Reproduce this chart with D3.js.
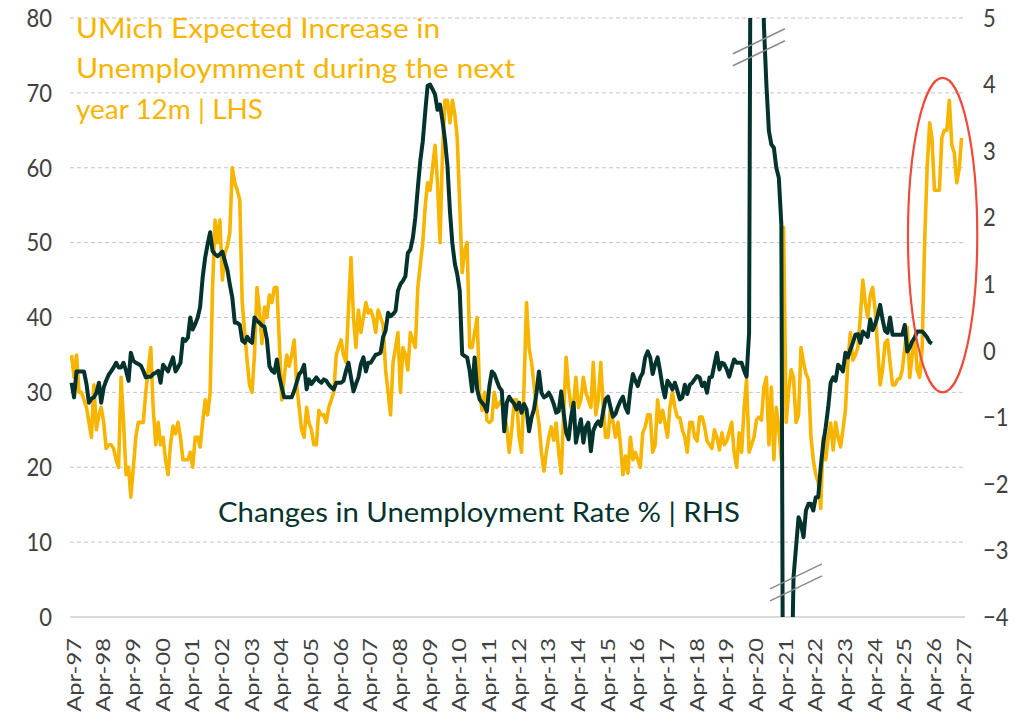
<!DOCTYPE html>
<html>
<head>
<meta charset="utf-8">
<script src="https://cdn.jsdelivr.net/npm/d3@7"></script>
<style>
  html, body { margin: 0; padding: 0; background: #ffffff; }
  svg { display: block; }
  text { font-family: Lato, "Open Sans", sans-serif; }
</style>
</head>
<body>
<svg id="chart" width="1018" height="721"></svg>
<script>
// ---- Data -------------------------------------------------------------
// Both series are monthly and start in March 1997.
const seriesStart = [1997, 2]; // [year, monthIndex]

// UMich: share expecting unemployment to rise over the next year (LHS, %)
const umichExpected = [
  35, 32, 35, 30, 30, 29, 28, 26, 24, 31,                      // 1997 Mar-Dec
  25, 27, 28, 26, 22.5, 23, 23, 22.5, 21, 20, 32, 26,          // 1998
  19, 20, 16, 20, 24, 26, 26, 26, 30, 33, 36, 28,              // 1999
  23, 26, 23, 24, 21, 19, 23, 25.5, 24.5, 26, 24, 21,          // 2000
  21, 21, 22, 20, 24, 24, 22.7, 26, 29, 27, 30, 44,            // 2001
  53, 50, 53, 45, 48.6, 49.5, 51.3, 60, 58, 57, 55.7, 42,      // 2002
  38, 34, 31, 30, 35, 44, 41, 36.5, 41.4, 40, 43, 42,          // 2003
  44, 44, 37, 29, 32, 35, 33.5, 35, 37, 31, 28, 25,            // 2004
  24, 28, 26, 25, 23, 23, 27.6, 27, 27, 26, 28, 29,            // 2005
  30, 35, 36, 37, 35, 34, 41, 48, 40, 36, 41, 38,              // 2006
  40, 42, 40.6, 41, 40, 38, 41, 40, 39, 33, 30, 27,            // 2007
  34, 36, 38, 30, 36, 35, 33, 38, 37, 36, 44, 47,              // 2008
  50, 55, 58, 57, 60, 63, 58, 50, 62, 69, 69, 66,              // 2009
  69, 67, 64, 55, 46, 49, 50, 36, 36, 38, 40, 30,              // 2010
  27.6, 30, 26.3, 26, 26.3, 30, 28, 28.5, 29, 27, 25.4, 22,    // 2011
  25, 29, 29, 24, 22, 31, 42, 36, 34, 31, 28, 25.9,            // 2012
  22, 19.5, 21.9, 24, 25.4, 23.6, 25.9, 22, 19.2, 27, 34.7, 30.7, // 2013
  28, 28.5, 32, 28, 29, 32, 30, 29, 28, 34, 27, 29,            // 2014
  34, 28, 24, 24, 28, 26, 24, 26, 23, 19, 21.5, 19.2,          // 2015
  24, 21, 22, 21, 20, 24.6, 25.4, 27, 27, 22, 23, 29,          // 2016
  26, 27.6, 26, 24, 28, 30, 28, 26.7, 26.6, 25, 24, 22,        // 2017
  26, 26, 24, 23.5, 26.7, 26.7, 25.5, 23.5, 23, 22.5, 25, 24,  // 2018
  22.3, 24.6, 23, 23.5, 24.7, 26, 22, 20, 24.6, 22, 28, 31.7,  // 2019
  22, 23, 24, 26.3, 26.7, 26.3, 30.7, 32, 23, 30.7, 21, 28,    // 2020
  25, 21, 52, 26, 30, 33, 32, 26, 27, 36, 34, 32.5,            // 2021
  31.7, 24, 21, 19, 18, 14.5, 24, 21, 24, 25.9, 22.3, 26,      // 2022
  24, 22.7, 25, 27.6, 34, 38, 34.3, 35, 36, 40, 45, 42,        // 2023
  40, 43, 44, 41, 36, 31, 33, 36.6, 37, 34, 31, 31,            // 2024
  31.7, 31.9, 33, 36, 38.7, 32, 35, 37.4, 33, 32, 36, 50,      // 2025
  60, 66, 64, 57, 57, 57, 64, 65, 65, 69, 63, 62,              // 2026
  58, 60, 64                                                   // 2027 Jan-Mar
];

// Change in the unemployment rate (RHS, percentage points)
const unemploymentChange = [
  -0.48, -0.7, -0.31, -0.31, -0.31, -0.31, -0.5, -0.78, -0.72, -0.7,        // 1997 Mar-Dec
  -0.63, -0.48, -0.78, -0.55, -0.45, -0.36, -0.31, -0.25, -0.18, -0.25, -0.25, -0.18, // 1998
  -0.3, -0.45, -0.03, -0.15, -0.18, -0.2, -0.22, -0.3, -0.4, -0.39, -0.39, -0.35,     // 1999
  -0.33, -0.3, -0.48, -0.21, -0.26, -0.31, -0.2, -0.1, -0.31, -0.25, -0.18, 0.18,     // 2000
  0.15, 0.2, 0.5, 0.32, 0.4, 0.5, 0.66, 1.1, 1.4, 1.6, 1.78, 1.5,                     // 2001
  1.45, 1.42, 1.45, 1.49, 1.35, 1.22, 1.0, 0.8, 0.42, 0.42, 0.39, 0.15,               // 2002
  0.12, 0.21, 0.15, 0.12, 0.5, 0.45, 0.42, 0.38, 0.36, 0.17, -0.23, -0.3,             // 2003
  -0.33, -0.13, -0.39, -0.55, -0.7, -0.7, -0.7, -0.7, -0.6, -0.48, -0.35, -0.31,      // 2004
  -0.21, -0.58, -0.43, -0.5, -0.45, -0.4, -0.45, -0.48, -0.43, -0.45, -0.51, -0.55,   // 2005
  -0.58, -0.48, -0.48, -0.48, -0.45, -0.3, -0.18, -0.4, -0.61, -0.5, -0.4, -0.2,      // 2006
  -0.1, -0.31, -0.18, -0.18, -0.12, -0.06, -0.05, -0.03, 0.21, 0.3, 0.57, 0.52,       // 2007
  0.55, 0.6, 0.9, 1.0, 1.05, 1.12, 1.47, 1.52, 1.7, 2.0, 2.45, 2.85,                  // 2008
  3.15, 3.6, 3.98, 4.0, 3.93, 3.85, 3.62, 3.7, 3.45, 3.17, 2.77, 2.1,                 // 2009
  1.6, 1.3, 1.15, 0.9, -0.05, -0.08, -0.1, -0.3, -0.61, -0.1, -0.58, -0.73,           // 2010
  -0.78, -0.83, -0.91, -0.53, -0.31, -0.35, -0.45, -0.55, -0.6, -1.21, -0.78, -0.69,  // 2011
  -0.75, -0.8, -0.88, -0.78, -0.93, -0.8, -0.88, -1.21, -1.0, -0.88, -0.63, -0.31,    // 2012
  -0.63, -0.7, -0.68, -0.63, -0.7, -0.8, -0.93, -0.91, -0.61, -0.93, -1.23, -1.33,    // 2013
  -1.0, -0.78, -1.38, -1.2, -1.03, -1.38, -1.15, -1.08, -1.51, -1.2, -1.11, -1.06,    // 2014
  -1.13, -0.9, -0.73, -0.69, -0.85, -0.99, -0.95, -0.84, -0.75, -0.69, -0.85, -0.93,  // 2015
  -0.58, -0.35, -0.45, -0.53, -0.4, -0.33, -0.1, -0.01, -0.1, -0.35, -0.2, -0.1,      // 2016
  -0.31, -0.55, -0.7, -0.45, -0.5, -0.58, -0.48, -0.6, -0.73, -0.7, -0.51, -0.65,     // 2017
  -0.51, -0.48, -0.43, -0.38, -0.4, -0.53, -0.48, -0.63, -0.4, -0.39, -0.2, -0.03,    // 2018
  -0.28, -0.18, -0.2, -0.28, -0.39, -0.25, -0.13, -0.18, -0.18, -0.18, -0.3, -0.39,   // 2019
  0.27, 11, 12, 11.5, 10, 8, 4.9, 4.0, 3.3, 3.1, 3.05, 2.75,                          // 2020
  2.6, 1.9, -8.5, -8.8, -7.5, -5.5, -3.4, -2.95, -2.5, -2.6, -2.8, -2.4,              // 2021
  -2.3, -2.3, -2.4, -2.2, -2.2, -1.75, -1.4, -1.15, -0.85, -0.48, -0.4, -0.45,        // 2022
  -0.21, -0.25, -0.31, -0.03, -0.1, 0.02, 0.12, 0.24, 0.25, 0.12, 0.29, 0.25,         // 2023
  0.21, 0.47, 0.31, 0.4, 0.52, 0.69, 0.47, 0.3, 0.27, 0.5, 0.24, 0.24,                // 2024
  0.24, 0.24, 0.24, 0.39, -0.01, 0.05, 0.14, 0.2, 0.29, 0.29, 0.29, 0.25,             // 2025
  0.2, 0.13, 0.11                                                                     // 2026 Jan-Mar
];

// Axis ticks and labels
const leftTicks = [0, 10, 20, 30, 40, 50, 60, 70, 80];
const rightTicks = [-4, -3, -2, -1, 0, 1, 2, 3, 4, 5];
const tickYears = d3.range(1997, 2028);          // an "Apr-yy" label each year
const xDomain = [new Date(1997, 1, 10), new Date(2027, 3, 12)];

const titleLines = ["UMich Expected Increase in", "Unemploymment during the next", "year 12m | LHS"];
const rhsLabel = "Changes in Unemployment Rate % | RHS";

// Highlight ring around the latest surge, in data coordinates
const highlight = { from: new Date(2025, 4, 10), to: new Date(2027, 8, 10), top: 72, bottom: 30 };
// Axis-break markers where the RHS line runs off the scale
const breaks = [
  { date: new Date(2020, 4, 1), value: 4.56 },
  { date: new Date(2021, 7, 1), value: -3.48 }
];

// ---- Layout & scales ---------------------------------------------------
const plot = { left: 70, right: 965, top: 18, bottom: 617 };
const yellow = "#F7B500";
const green = "#04332E";
const axisGrey = "#404040";

const x = d3.scaleTime().domain(xDomain).range([plot.left, plot.right]);
const yL = d3.scaleLinear().domain([0, 80]).range([plot.bottom, plot.top]);
const yR = d3.scaleLinear().domain([-4, 5]).range([plot.bottom, plot.top]);

const monthDate = i => new Date(seriesStart[0], seriesStart[1] + i, 1);
const umichData = umichExpected.map((v, i) => ({ date: monthDate(i), v }));
const unempData = unemploymentChange.map((v, i) => ({ date: monthDate(i), v }));

const svg = d3.select("#chart");

svg.append("defs").append("clipPath").attr("id", "plot-clip")
  .append("rect")
  .attr("x", plot.left - 5).attr("y", plot.top)
  .attr("width", plot.right - plot.left + 10).attr("height", plot.bottom - plot.top);

// Horizontal gridlines (LHS ticks), dashed; baseline solid
const grid = svg.append("g");
grid.selectAll("line.grid")
  .data(leftTicks.filter(t => t > 0))
  .join("line")
  .attr("x1", plot.left).attr("x2", plot.right)
  .attr("y1", d => yL(d)).attr("y2", d => yL(d))
  .attr("stroke", "#c4c4c4").attr("stroke-width", 1)
  .attr("stroke-dasharray", "4,3");
grid.append("line")
  .attr("x1", plot.left).attr("x2", plot.right)
  .attr("y1", yL(0)).attr("y2", yL(0))
  .attr("stroke", "#d9d9d9").attr("stroke-width", 2);

// Left axis
const leftAxis = d3.axisLeft(yL).tickValues(leftTicks).tickSize(0).tickPadding(0);
const gL = svg.append("g").attr("transform", "translate(52,0)").call(leftAxis);
gL.select(".domain").remove();
gL.selectAll("text")
  .attr("fill", axisGrey).attr("font-size", 22)
  .attr("font-family", "Lato, sans-serif")
  .attr("transform", "scale(1,1.18)");

// Right axis
const rightAxis = d3.axisRight(yR).tickValues(rightTicks).tickSize(0).tickPadding(0)
  .tickFormat(d3.format("d"));
const gR = svg.append("g").attr("transform", "translate(983,0)").call(rightAxis);
gR.select(".domain").remove();
gR.selectAll("text")
  .attr("fill", axisGrey).attr("font-size", 22)
  .attr("font-family", "Lato, sans-serif")
  .attr("transform", "scale(1,1.18)");

// Bottom axis: rotated "Apr-yy" labels
const fmt = d3.timeFormat("%b-%y");
const gX = svg.append("g");
gX.selectAll("text")
  .data(tickYears.map(yr => new Date(yr, 3, 1)))
  .join("text")
  .attr("transform", d => `translate(${x(d)},638) rotate(-90) scale(1.25,1)`)
  .attr("text-anchor", "end")
  .attr("dy", "0.35em")
  .attr("fill", axisGrey)
  .attr("font-size", 19)
  .text(d => fmt(d));

// Lines
const lineL = d3.line().x(d => x(d.date)).y(d => yL(d.v));
const lineR = d3.line().x(d => x(d.date)).y(d => yR(d.v));

svg.append("path")
  .datum(umichData)
  .attr("d", lineL)
  .attr("fill", "none")
  .attr("stroke", yellow)
  .attr("stroke-width", 3.6)
  .attr("stroke-linejoin", "round");

svg.append("g").attr("clip-path", "url(#plot-clip)")
  .append("path")
  .datum(unempData)
  .attr("d", lineR)
  .attr("fill", "none")
  .attr("stroke", green)
  .attr("stroke-width", 4)
  .attr("stroke-linejoin", "round");

// Axis-break markers: pairs of thin slanted strokes
const brk = svg.append("g");
breaks.forEach(b => {
  const cx = x(b.date), cy = yR(b.value);
  [-6, 6].forEach(off => {
    brk.append("line")
      .attr("x1", cx - 26).attr("y1", cy + off + 12.5)
      .attr("x2", cx + 26).attr("y2", cy + off - 12.5)
      .attr("stroke", "#8a8a8a").attr("stroke-width", 1.5);
  });
});

// Highlight ellipse
const ex0 = x(highlight.from), ex1 = x(highlight.to);
const ey0 = yL(highlight.top), ey1 = yL(highlight.bottom);
svg.append("ellipse")
  .attr("cx", (ex0 + ex1) / 2).attr("cy", (ey0 + ey1) / 2)
  .attr("rx", (ex1 - ex0) / 2).attr("ry", (ey1 - ey0) / 2)
  .attr("fill", "none").attr("stroke", "#EF4B3C").attr("stroke-width", 2.2);

// Series titles
const title = svg.append("g");
const titleWidths = [364, 439, 187];
titleLines.forEach((t, i) => {
  title.append("text")
    .attr("x", 76).attr("y", 37.5 + i * 40.5)
    .attr("fill", yellow)
    .attr("font-size", 26)
    .attr("textLength", titleWidths[i])
    .attr("lengthAdjust", "spacingAndGlyphs")
    .text(t);
});
svg.append("text")
  .attr("x", 218).attr("y", 521.5)
  .attr("fill", green)
  .attr("font-size", 26)
  .attr("textLength", 522)
  .attr("lengthAdjust", "spacingAndGlyphs")
  .text(rhsLabel);
</script>
</body>
</html>
